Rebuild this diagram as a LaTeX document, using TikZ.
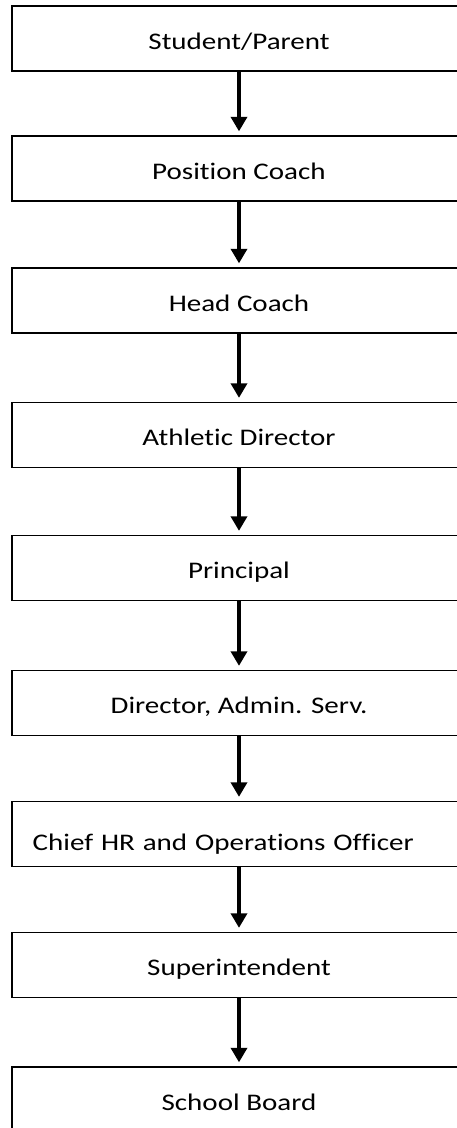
\documentclass[tikz,border=0pt]{standalone}
\usepackage{fontspec}
\setmainfont[FakeStretch=1.22,Ligatures=CommonOff]{Carlito}
\usetikzlibrary{arrows.meta}

\tikzset{
  stepbox/.style={draw, line width=1.3, minimum width=454, minimum height=65, inner sep=0,
    text height=21.6, text depth=0, font=\fontsize{23.8}{28}\selectfont},
  widebox/.style={stepbox, text width=412.6, align=left, inner xsep=20.7, text height=32},
  downarrow/.style={line width=4.5, -{Triangle[width=16,length=14.6]}, shorten >=4}
}

\begin{document}
\begin{tikzpicture}[x=1pt,y=1pt,yscale=-1,xscale=1]
\useasboundingbox (0,0) rectangle (456,1128);

%Shape: Rectangle [id:student] 
\node [stepbox] (student) at (239,38.5) {Student/Parent};
%Shape: Rectangle [id:poscoach] 
\node [stepbox] (poscoach) at (239,168.5) {Position Coach};
%Shape: Rectangle [id:headcoach] 
\node [stepbox] (headcoach) at (239,300.5) {Head Coach};
%Shape: Rectangle [id:athdir] 
\node [stepbox] (athdir) at (239,435) {Athletic Director};
%Shape: Rectangle [id:principal] 
\node [stepbox] (principal) at (239,568) {Principal};
%Shape: Rectangle [id:adminserv] 
\node [stepbox] (adminserv) at (239,703) {Director, Admin. Serv.};
%Shape: Rectangle [id:chiefhr] 
\node [widebox] (chiefhr) at (239,834) {Chief HR and Operations Officer};
%Shape: Rectangle [id:supt] 
\node [stepbox] (supt) at (239,965) {Superintendent};
%Shape: Rectangle [id:board] 
\node [stepbox] (board) at (239,1099.5) {School Board};

%Straight Lines 
\draw [downarrow] (student) -- (poscoach);
\draw [downarrow] (poscoach) -- (headcoach);
\draw [downarrow] (headcoach) -- (athdir);
\draw [downarrow] (athdir) -- (principal);
\draw [downarrow] (principal) -- (adminserv);
\draw [downarrow] (adminserv) -- (chiefhr);
\draw [downarrow] (chiefhr) -- (supt);
\draw [downarrow] (supt) -- (board);

\end{tikzpicture}
\end{document}
